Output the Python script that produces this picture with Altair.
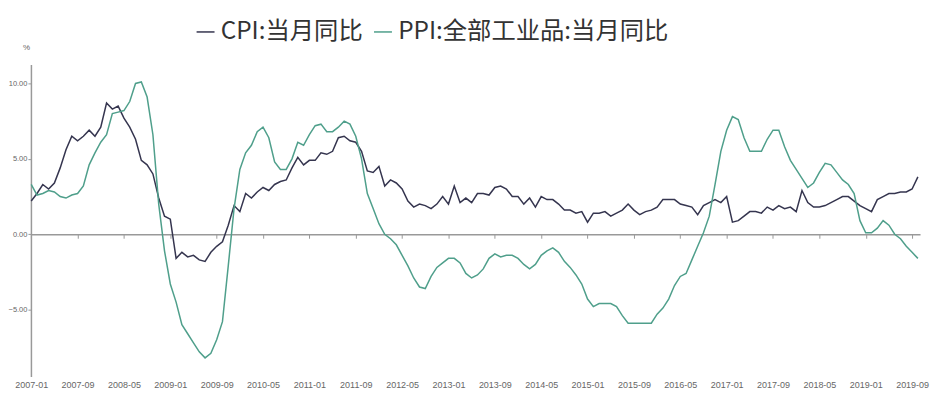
import altair as alt
import pandas as pd

START_YEAR = 2007
cpi = [2.2, 2.7, 3.3, 3.0, 3.4, 4.4, 5.6, 6.5, 6.2, 6.5, 6.9, 6.5,
       7.1, 8.7, 8.3, 8.5, 7.7, 7.1, 6.3, 4.9, 4.6, 4.0, 2.4, 1.2,
       1.0, -1.6, -1.2, -1.5, -1.4, -1.7, -1.8, -1.2, -0.8, -0.5, 0.6, 1.9,
       1.5, 2.7, 2.4, 2.8, 3.1, 2.9, 3.3, 3.5, 3.6, 4.4, 5.1, 4.6,
       4.9, 4.9, 5.4, 5.3, 5.5, 6.4, 6.5, 6.2, 6.1, 5.5, 4.2, 4.1,
       4.5, 3.2, 3.6, 3.4, 3.0, 2.2, 1.8, 2.0, 1.9, 1.7, 2.0, 2.5,
       2.0, 3.2, 2.1, 2.4, 2.1, 2.7, 2.7, 2.6, 3.1, 3.2, 3.0, 2.5,
       2.5, 2.0, 2.4, 1.8, 2.5, 2.3, 2.3, 2.0, 1.6, 1.6, 1.4, 1.5,
       0.8, 1.4, 1.4, 1.5, 1.2, 1.4, 1.6, 2.0, 1.6, 1.3, 1.5, 1.6,
       1.8, 2.3, 2.3, 2.3, 2.0, 1.9, 1.8, 1.3, 1.9, 2.1, 2.3, 2.1,
       2.5, 0.8, 0.9, 1.2, 1.5, 1.5, 1.4, 1.8, 1.6, 1.9, 1.7, 1.8,
       1.5, 2.9, 2.1, 1.8, 1.8, 1.9, 2.1, 2.3, 2.5, 2.5, 2.2, 1.9,
       1.7, 1.5, 2.3, 2.5, 2.7, 2.7, 2.8, 2.8, 3.0, 3.8]
ppi = [3.3, 2.6, 2.7, 2.9, 2.8, 2.5, 2.4, 2.6, 2.7, 3.2, 4.6, 5.4,
       6.1, 6.6, 8.0, 8.1, 8.2, 8.8, 10.0, 10.1, 9.1, 6.6, 2.0, -1.1,
       -3.3, -4.5, -6.0, -6.6, -7.2, -7.8, -8.2, -7.9, -7.0, -5.8, -2.1, 1.7,
       4.3, 5.4, 5.9, 6.8, 7.1, 6.4, 4.8, 4.3, 4.3, 5.0, 6.1, 5.9,
       6.6, 7.2, 7.3, 6.8, 6.8, 7.1, 7.5, 7.3, 6.5, 5.0, 2.7, 1.7,
       0.7, 0.0, -0.3, -0.7, -1.4, -2.1, -2.9, -3.5, -3.6, -2.8, -2.2, -1.9,
       -1.6, -1.6, -1.9, -2.6, -2.9, -2.7, -2.3, -1.6, -1.3, -1.5, -1.4, -1.4,
       -1.6, -2.0, -2.3, -2.0, -1.4, -1.1, -0.9, -1.2, -1.8, -2.2, -2.7, -3.3,
       -4.3, -4.8, -4.6, -4.6, -4.6, -4.8, -5.4, -5.9, -5.9, -5.9, -5.9, -5.9,
       -5.3, -4.9, -4.3, -3.4, -2.8, -2.6, -1.7, -0.8, 0.1, 1.2, 3.3, 5.5,
       6.9, 7.8, 7.6, 6.4, 5.5, 5.5, 5.5, 6.3, 6.9, 6.9, 5.8, 4.9,
       4.3, 3.7, 3.1, 3.4, 4.1, 4.7, 4.6, 4.1, 3.6, 3.3, 2.7, 0.9,
       0.1, 0.1, 0.4, 0.9, 0.6, 0.0, -0.3, -0.8, -1.2, -1.6]
series_names = ["CPI:当月同比", "PPI:全部工业品:当月同比"]
series_colors = ["#35354f", "#4f9f8b"]
y_ticks = [-5, 0, 5, 10]
x_tick_idx = list(range(0, 153, 8))

rows = []
for name, vals in zip(series_names, [cpi, ppi]):
    for i, v in enumerate(vals):
        rows.append({"idx": i, "value": v, "series": name})
df = pd.DataFrame(rows)

W, H = 892, 313
xmin, xmax = -0.05, 153.37
ymin, ymax = -9.43, 11.26
y0 = H * (ymax - 0) / (ymax - ymin)
off = -(H - y0)

label_expr = ("toString(2007 + floor(datum.value/12)) + '-' + "
              "((datum.value % 12) < 9 ? '0' : '') + toString((datum.value % 12) + 1)")

FONT = "Liberation Sans"

chart = alt.Chart(df).mark_line(strokeWidth=1.5).encode(
    x=alt.X("idx:Q", scale=alt.Scale(domain=[xmin, xmax], nice=False, zero=False),
            axis=alt.Axis(values=x_tick_idx, labelExpr=label_expr, title=None,
                          grid=False, offset=off, labelPadding=-off,
                          labelOverlap=False, labelBound=False, labelFlush=False,
                          domainColor="#999999", domainWidth=1.5,
                          tickColor="#999999", tickSize=4, tickWidth=1,
                          labelFont=FONT, labelFontSize=9, labelColor="#666666")),
    y=alt.Y("value:Q", scale=alt.Scale(domain=[ymin, ymax], nice=False, zero=False),
            axis=alt.Axis(values=y_ticks, format=".2f", grid=False, title="%",
                          titleAngle=0, titleX=-5, titleY=-17, titleAlign="center",
                          titleBaseline="middle", titleFontSize=8, titleFontWeight="normal",
                          titleColor="#666666", titleFont=FONT,
                          labelOverlap=False,
                          domainColor="#999999", domainWidth=1.5,
                          tickColor="#999999", tickSize=3, tickWidth=1, labelPadding=1,
                          labelFont=FONT, labelFontSize=7.5, labelColor="#666666")),
    color=alt.Color("series:N", scale=alt.Scale(domain=series_names, range=series_colors),
                    legend=alt.Legend(title=None, orient="none", legendX=163, legendY=-45,
                                      direction="horizontal", symbolType="stroke",
                                      symbolSize=324, symbolStrokeWidth=1.5,
                                      labelFont="Noto Sans CJK SC", labelFontSize=24.4,
                                      labelColor="#333333", labelLimit=600,
                                      columnPadding=8, labelOffset=3)),
).properties(
    width=W, height=H,
    background="white",
    autosize=alt.AutoSizeParams(type="none"),
    padding={"left": 23, "top": 56, "right": 10, "bottom": 20},
).configure_view(strokeWidth=0, stroke="transparent")

chart.save("out.html", embed_options={"renderer": "svg", "actions": False})
